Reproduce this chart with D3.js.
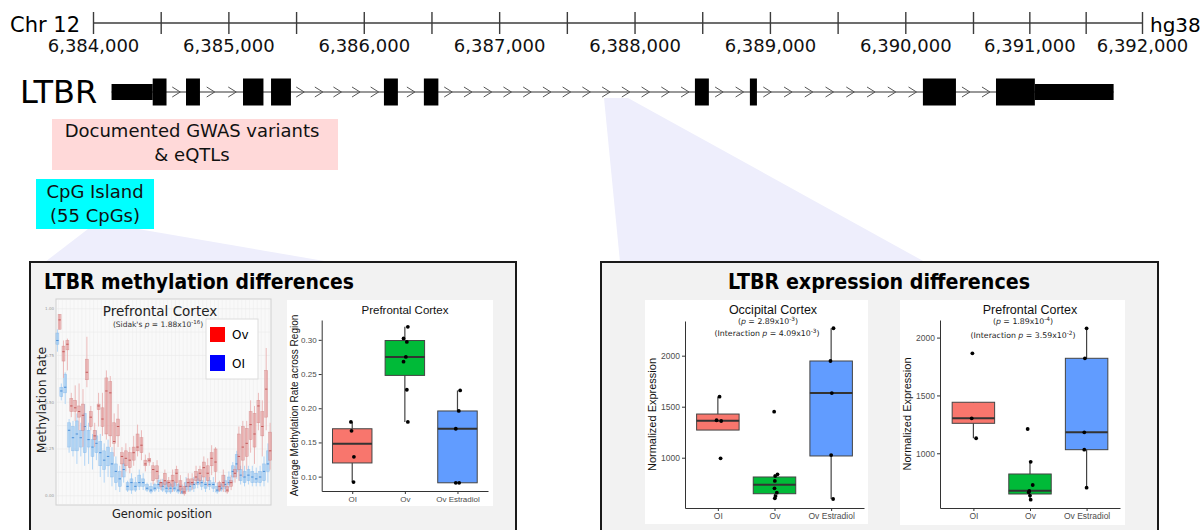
<!DOCTYPE html>
<html lang="en">
<head>
<meta charset="UTF-8">
<title>LTBR</title>
<script src="https://d3js.org/d3.v7.min.js"></script>
<style>
  body { margin: 0; background: #fff; }
  svg text { font-family: "DejaVu Sans", Verdana, sans-serif; }
  .rplot text { font-family: "Liberation Sans", Arial, sans-serif; }
</style>
</head>
<body>
<svg id="fig" width="1204" height="530"></svg>
<script>
// ---------- data ----------
// chromosome coordinate ruler (hg38, chr12)
const rulerTicks = d3.range(6384000, 6392001, 500);

// LTBR gene model, genomic start / end of each block
const exonStart = [6384137, 6384441, 6384687, 6385108, 6385315, 6386149, 6386444, 6388446, 6388852, 6390130, 6390704, 6391049];
const exonEnd   = [6384441, 6384543, 6384790, 6385259, 6385462, 6386252, 6386551, 6388549, 6388904, 6390374, 6391049, 6391748];
const exonKind  = ["utr", "cds", "cds", "cds", "cds", "cds", "cds", "cds", "cds", "cds", "cds", "utr"];

// per-CpG methylation (55 CpGs), box summaries, Ov and OI
const ovHi  = [.97,.83,.84,.55,.59,.60,.57,.85,.48,.39,.55,.55,.67,.64,.44,.49,.26,.28,.26,.32,.38,.35,.22,.23,.18,.19,.09,.14,.10,.14,.16,.11,.07,.12,.12,.16,.16,.21,.20,.27,.26,.08,.14,.07,.11,.16,.37,.40,.40,.51,.48,.55,.51,.79,.39];
const ovQ3  = [.97,.80,.83,.52,.51,.48,.49,.73,.45,.35,.49,.47,.63,.61,.39,.41,.23,.24,.23,.26,.33,.31,.19,.20,.16,.16,.07,.12,.08,.11,.14,.08,.05,.09,.09,.13,.14,.18,.16,.23,.25,.07,.11,.05,.08,.14,.33,.37,.36,.45,.44,.51,.45,.67,.34];
const ovMed = [.94,.77,.81,.48,.47,.45,.43,.66,.42,.32,.48,.41,.56,.55,.29,.37,.21,.20,.19,.23,.26,.27,.17,.19,.14,.13,.07,.08,.07,.08,.12,.05,.02,.07,.07,.10,.12,.15,.12,.20,.18,.05,.07,.03,.07,.12,.21,.26,.28,.38,.33,.48,.37,.57,.24];
const ovQ1  = [.89,.72,.78,.45,.45,.42,.35,.62,.37,.30,.46,.37,.33,.32,.28,.32,.17,.16,.15,.19,.24,.23,.16,.18,.08,.09,.05,.06,.05,.05,.07,.03,.01,.05,.06,.08,.08,.10,.08,.16,.13,.03,.05,.02,.05,.10,.14,.19,.21,.30,.26,.39,.32,.42,.19];
const ovLo  = [.89,.63,.67,.42,.40,.35,.26,.58,.35,.26,.37,.32,.30,.26,.21,.26,.10,.13,.12,.16,.21,.19,.13,.16,.06,.07,.03,.04,.03,.02,.05,.01,.00,.02,.03,.06,.06,.07,.05,.11,.07,.02,.02,.01,.03,.07,.08,.10,.14,.23,.17,.35,.21,.35,.14];
const oiHi  = [.89,.60,.66,.41,.40,.44,.39,.49,.39,.33,.35,.33,.28,.30,.26,.21,.16,.20,.08,.12,.10,.14,.12,.07,.07,.07,.11,.09,.08,.07,.08,.07,.06,.10,.08,.10,.12,.11,.10,.10,.10,.07,.07,.11,.13,.18,.24,.16,.16,.16,.16,.15,.16,.21,.28];
const oiQ3  = [.87,.58,.65,.39,.37,.40,.35,.44,.35,.30,.32,.29,.24,.26,.23,.17,.13,.17,.07,.09,.07,.11,.09,.06,.05,.06,.08,.07,.07,.06,.07,.06,.04,.07,.07,.07,.09,.08,.07,.08,.07,.05,.06,.08,.10,.16,.22,.14,.13,.14,.13,.12,.13,.17,.24];
const oiMed = [.83,.56,.58,.35,.31,.33,.31,.37,.30,.26,.28,.23,.19,.21,.17,.13,.09,.14,.05,.07,.05,.07,.07,.04,.03,.04,.06,.05,.04,.04,.04,.03,.02,.05,.05,.06,.07,.07,.06,.06,.06,.03,.04,.06,.07,.13,.17,.11,.10,.11,.10,.09,.10,.13,.17];
const oiQ1  = [.81,.53,.55,.26,.24,.24,.26,.23,.26,.21,.23,.16,.14,.16,.10,.07,.05,.10,.03,.03,.03,.05,.05,.03,.02,.03,.04,.03,.02,.02,.03,.02,.01,.03,.03,.04,.06,.05,.04,.05,.04,.02,.03,.04,.06,.10,.13,.08,.07,.08,.07,.07,.07,.08,.13];
const oiLo  = [.77,.51,.49,.23,.21,.17,.21,.16,.17,.14,.19,.10,.07,.10,.05,.03,.02,.07,.02,.01,.02,.03,.03,.02,.01,.02,.02,.02,.01,.01,.02,.01,.01,.02,.02,.02,.04,.03,.02,.03,.02,.01,.02,.02,.04,.07,.09,.06,.05,.06,.05,.05,.05,.05,.07];
const cpgTicks = [0, 0.25, 0.5, 0.75, 1];

// group boxplots
const groups = ["OI", "Ov", "Ov Estradiol"];
const groupColors = ["#F8766D", "#00BA38", "#619CFF"];

// average methylation, prefrontal cortex  [lo, q1, median, q3, hi]
const methStats = [[0.092, 0.120, 0.148, 0.170, 0.180], [0.180, 0.248, 0.275, 0.299, 0.319], [0.091, 0.091, 0.170, 0.196, 0.226]];
const methPts = [[0.180, 0.167, 0.129, 0.092], [0.319, 0.302, 0.297, 0.275, 0.268, 0.227, 0.180], [0.226, 0.196, 0.170, 0.091, 0.091]];
const methJit = [[-0.025, -0.013, 0.032, 0.025], [0.057, -0.025, 0.038, 0.019, -0.025, 0.038, 0.057], [0.051, 0.025, -0.032, -0.032, 0.032]];
const methTicks = [0.10, 0.15, 0.20, 0.25, 0.30];

// normalized expression, occipital cortex
const occStats = [[1271, 1271, 1363, 1428, 1598], [602, 647, 735, 811, 837], [595, 1017, 1634, 1948, 2269]];
const occPts = [[1598, 1367, 1360, 994], [1451, 837, 820, 772, 700, 657, 624, 602], [2269, 1948, 1634, 1026, 595]];
const occJit = [[0.03, -0.023, 0.059, 0.048], [-0.006, 0.053, 0.012, 0.006, 0, 0.041, 0.018, 0.006], [0.041, -0.012, 0.012, 0, 0.035]];

// normalized expression, prefrontal cortex
const pfcStats = [[1130, 1259, 1302, 1441, 1441], [599, 648, 677, 821, 926], [703, 1031, 1181, 1821, 2080]];
const pfcPts = [[1864, 1302, 1130], [1210, 926, 726, 674, 663, 634, 599], [2080, 1821, 1181, 1031, 703]];
const pfcJit = [[-0.018, -0.03, 0.048], [-0.041, 0.012, 0.048, -0.012, -0.023, 0, 0.012], [0, -0.03, -0.041, -0.041, 0]];
const exprTicks = [1000, 1500, 2000];

// ---------- drawing ----------
const svg = d3.select("#fig");

// light "zoom" wedges
svg.append("polygon").attr("points", "88,229 138,229 330,262 45,262").attr("fill", "#eeeefc");
svg.append("polygon").attr("points", "604,98 628,98 925,262 620,262").attr("fill", "#eeeefc");

// ruler
const gx = d3.scaleLinear().domain([6384000, 6390500, 6392000]).range([93, 973, 1142]);
svg.append("line")
  .attr("x1", gx(6384000)).attr("x2", gx(6392000))
  .attr("y1", 23).attr("y2", 23)
  .attr("stroke", "#3c3c3c").attr("stroke-width", 1.4);
const ruler = svg.append("g")
  .attr("transform", "translate(0,12)")
  .call(d3.axisBottom(gx).tickValues(rulerTicks)
    .tickFormat(d => d % 1000 === 0 ? d3.format(",")(d) : "")
    .tickSize(22).tickPadding(5).tickSizeOuter(0));
ruler.select(".domain").remove();
ruler.selectAll(".tick line").attr("stroke", "#3c3c3c").attr("stroke-width", 1.4);
ruler.selectAll("text").attr("font-family", "DejaVu Sans, Verdana, sans-serif")
  .attr("font-size", 18).attr("fill", "#111");
ruler.attr("font-family", null).attr("font-size", null);

svg.append("text").attr("x", 80).attr("y", 32).attr("text-anchor", "end")
  .attr("font-size", 21).text("Chr 12");
svg.append("text").attr("x", 1150).attr("y", 32).attr("font-size", 20).text("hg38");

// gene model
const geneY = 92;
svg.append("text").attr("x", 20).attr("y", 103).attr("font-size", 32).text("LTBR");
svg.append("line")
  .attr("x1", gx(exonStart[0])).attr("x2", gx(exonEnd[exonEnd.length - 1]))
  .attr("y1", geneY).attr("y2", geneY).attr("stroke", "#333").attr("stroke-width", 1.2);

const chevrons = [];
for (let i = 0; i < exonStart.length - 1; i++) {
  const a = gx(exonEnd[i]), b = gx(exonStart[i + 1]);
  const n = Math.round((b - a) / 20);
  for (let k = 0; k < n; k++) chevrons.push(a + (k + 0.5) * (b - a) / n);
}
svg.append("g").selectAll("path").data(chevrons).join("path")
  .attr("d", c => `M${c - 4},${geneY - 5}L${c + 4},${geneY}L${c - 4},${geneY + 5}`)
  .attr("fill", "none").attr("stroke", "#555").attr("stroke-width", 1);

svg.append("g").selectAll("rect").data(exonStart).join("rect")
  .attr("x", (d, i) => gx(d))
  .attr("width", (d, i) => gx(exonEnd[i]) - gx(d))
  .attr("y", (d, i) => exonKind[i] === "utr" ? geneY - 8 : geneY - 13.5)
  .attr("height", (d, i) => exonKind[i] === "utr" ? 16 : 27)
  .attr("fill", "#000");

// annotation boxes
svg.append("rect").attr("x", 52).attr("y", 119).attr("width", 286).attr("height", 51).attr("fill", "#ffd9d9");
svg.append("text").attr("x", 192).attr("y", 137).attr("text-anchor", "middle").attr("font-size", 18).attr("fill", "#111").text("Documented GWAS variants");
svg.append("text").attr("x", 192).attr("y", 161).attr("text-anchor", "middle").attr("font-size", 18).attr("fill", "#111").text("& eQTLs");
svg.append("rect").attr("x", 36).attr("y", 179).attr("width", 118).attr("height", 50).attr("fill", "#00ffff");
svg.append("text").attr("x", 95).attr("y", 198).attr("text-anchor", "middle").attr("font-size", 18).attr("fill", "#111").text("CpG Island");
svg.append("text").attr("x", 95).attr("y", 222).attr("text-anchor", "middle").attr("font-size", 18).attr("fill", "#111").text("(55 CpGs)");

// panels
svg.append("rect").attr("x", 30).attr("y", 262).attr("width", 486).attr("height", 290)
  .attr("fill", "#f2f2f2").attr("stroke", "#1a1a1a").attr("stroke-width", 2);
svg.append("rect").attr("x", 601).attr("y", 262).attr("width", 557).attr("height", 290)
  .attr("fill", "#f2f2f2").attr("stroke", "#1a1a1a").attr("stroke-width", 2);
svg.append("text").attr("x", 44).attr("y", 289).attr("font-size", 21).attr("font-weight", "bold")
  .attr("textLength", 310).attr("lengthAdjust", "spacingAndGlyphs").text("LTBR methylation differences");
svg.append("text").attr("x", 879).attr("y", 289).attr("font-size", 21).attr("font-weight", "bold")
  .attr("text-anchor", "middle").attr("textLength", 302).attr("lengthAdjust", "spacingAndGlyphs")
  .text("LTBR expression differences");

// ---------- per-CpG methylation plot ----------
const hm = svg.append("g");
hm.append("rect").attr("x", 56).attr("y", 299).attr("width", 215).attr("height", 206)
  .attr("fill", "#f9f9f9").attr("stroke", "#cfcfcf");
const hx = d3.scaleLinear().domain([1, ovMed.length]).range([58.5, 269]);
const hy = d3.scaleLinear().domain([0, 1]).range([495.7, 308.7]);
const idx = d3.range(1, ovMed.length + 1);
hm.append("g").selectAll("line").data(idx).join("line")
  .attr("x1", d => hx(d)).attr("x2", d => hx(d)).attr("y1", 300).attr("y2", 504)
  .attr("stroke", "#efefef").attr("stroke-width", 0.6);
hm.append("g").selectAll("line").data(d3.range(0, 1.01, 0.125)).join("line")
  .attr("x1", 57).attr("x2", 270).attr("y1", d => hy(d)).attr("y2", d => hy(d))
  .attr("stroke", "#ebebeb").attr("stroke-width", 0.6);
hm.append("g").selectAll("text").data(cpgTicks).join("text")
  .attr("x", 54).attr("y", d => hy(d) + 1.5).attr("text-anchor", "end")
  .attr("font-size", 4).attr("fill", "#999").text(d => d3.format(".2f")(d));

function cpgSeries(hi, q3, med, q1, lo, dx, light, fill, edge, dark) {
  const g = hm.append("g");
  g.selectAll("line").data(idx).join("line")
    .attr("x1", d => hx(d) + dx).attr("x2", d => hx(d) + dx)
    .attr("y1", d => hy(hi[d - 1])).attr("y2", d => hy(lo[d - 1]))
    .attr("stroke", light).attr("stroke-width", 1);
  g.selectAll("rect").data(idx).join("rect")
    .attr("x", d => hx(d) + dx - 1.5).attr("width", 3)
    .attr("y", d => hy(q3[d - 1]))
    .attr("height", d => Math.max(1.2, hy(q1[d - 1]) - hy(q3[d - 1])))
    .attr("fill", fill).attr("stroke", edge).attr("stroke-width", 0.5);
  g.selectAll(".med").data(idx).join("line").attr("class", "med")
    .attr("x1", d => hx(d) + dx - 1.2).attr("x2", d => hx(d) + dx + 1.2)
    .attr("y1", d => hy(med[d - 1])).attr("y2", d => hy(med[d - 1]))
    .attr("stroke", dark).attr("stroke-width", 1);
}
cpgSeries(oiHi, oiQ3, oiMed, oiQ1, oiLo, -1.1, "rgba(160,205,245,0.8)", "rgba(150,198,242,0.6)", "rgba(110,170,230,0.6)", "#4a8fd8");
cpgSeries(ovHi, ovQ3, ovMed, ovQ1, ovLo, 1.1, "rgba(232,170,170,0.8)", "rgba(228,150,150,0.55)", "rgba(200,110,110,0.6)", "#c45a5a");

hm.append("text").attr("x", 160).attr("y", 316).attr("text-anchor", "middle").attr("font-size", 13.5).attr("fill", "#222").text("Prefrontal Cortex");
const sid = hm.append("text").attr("x", 158).attr("y", 327).attr("text-anchor", "middle").attr("font-size", 7.5).attr("fill", "#333");
sid.append("tspan").text("(Sidak's ");
sid.append("tspan").attr("font-style", "italic").text("p");
sid.append("tspan").text(" = 1.88x10");
sid.append("tspan").attr("font-size", 5.5).attr("dy", -3).text("-16");
sid.append("tspan").attr("dy", 3).text(")");

hm.append("rect").attr("x", 206).attr("y", 319).attr("width", 52).attr("height", 60).attr("fill", "#fff").attr("stroke", "#ddd");
hm.append("rect").attr("x", 210).attr("y", 327).attr("width", 15).attr("height", 15).attr("fill", "#ff0000");
hm.append("rect").attr("x", 210).attr("y", 355).attr("width", 15).attr("height", 16).attr("fill", "#0000ff");
hm.append("text").attr("x", 232).attr("y", 339).attr("font-size", 12).text("Ov");
hm.append("text").attr("x", 232).attr("y", 368).attr("font-size", 12).text("OI");
hm.append("text").attr("transform", "translate(46,400) rotate(-90)").attr("text-anchor", "middle").attr("font-size", 12.5).attr("fill", "#222").text("Methylation Rate");
hm.append("text").attr("x", 162).attr("y", 518).attr("text-anchor", "middle").attr("font-size", 11.5).attr("fill", "#222").text("Genomic position");

// ---------- group boxplots ----------
function boxPanel(c) {
  const g = svg.append("g").attr("class", "rplot");
  g.append("rect").attr("x", c.bg[0]).attr("y", c.bg[1]).attr("width", c.bg[2]).attr("height", c.bg[3]).attr("fill", "#fff");
  const x = d3.scalePoint().domain(groups).range(c.xr).padding(c.pad);
  const y = d3.scaleLinear().domain(c.yd).range(c.yr);
  const bw = x.step() * 0.75;

  const ya = g.append("g").attr("transform", `translate(${c.xr[0]},0)`)
    .call(d3.axisLeft(y).tickValues(c.ticks).tickFormat(c.fmt).tickSize(3).tickPadding(2).tickSizeOuter(0));
  const xa = g.append("g").attr("transform", `translate(0,${c.yr[0]})`)
    .call(d3.axisBottom(x).tickSize(3).tickPadding(2).tickSizeOuter(0));
  [ya, xa].forEach(a => {
    a.attr("font-family", null).attr("font-size", null);
    a.select(".domain").attr("stroke", "#333").attr("stroke-width", 1);
    a.selectAll(".tick line").attr("stroke", "#333");
    a.selectAll("text").attr("font-size", c.fs).attr("fill", "#4d4d4d");
  });

  c.stats.forEach((s, i) => {
    const cx = x(groups[i]);
    g.append("line").attr("x1", cx).attr("x2", cx).attr("y1", y(s[0])).attr("y2", y(s[4]))
      .attr("stroke", "#444").attr("stroke-width", 1.2);
    g.append("rect").attr("x", cx - bw / 2).attr("width", bw)
      .attr("y", y(s[3])).attr("height", y(s[1]) - y(s[3]))
      .attr("fill", groupColors[i]).attr("stroke", "#444").attr("stroke-width", 1);
    g.append("line").attr("x1", cx - bw / 2).attr("x2", cx + bw / 2).attr("y1", y(s[2])).attr("y2", y(s[2]))
      .attr("stroke", "#333").attr("stroke-width", 2);
    g.append("g").selectAll("circle").data(c.pts[i]).join("circle")
      .attr("cx", (d, j) => cx + c.jit[i][j] * x.step()).attr("cy", d => y(d)).attr("r", 1.9)
      .attr("fill", "#000");
  });

  g.append("text").attr("x", c.title[1]).attr("y", c.title[2]).attr("text-anchor", "middle")
    .attr("font-size", c.title[3]).attr("fill", "#111").text(c.title[0]);
  g.append("text").attr("transform", `translate(${c.ytitle[1]},${(c.yr[0] + c.yr[1]) / 2}) rotate(-90)`)
    .attr("text-anchor", "middle").attr("font-size", c.ytitle[2]).attr("fill", "#111").text(c.ytitle[0]);
  (c.subs || []).forEach(s => {
    const t = g.append("text").attr("x", s[3]).attr("y", s[4]).attr("text-anchor", "middle")
      .attr("font-size", 7.8).attr("fill", "#222").style("font-family", "DejaVu Sans, Verdana, sans-serif");
    t.append("tspan").text(s[0]);
    t.append("tspan").attr("font-style", "italic").text("p");
    t.append("tspan").text(" = " + s[1]);
    t.append("tspan").attr("font-size", 5.8).attr("dy", -3).text(s[2]);
    t.append("tspan").attr("dy", 3).text(")");
  });
}

boxPanel({
  bg: [287, 300, 206, 206], xr: [321.7, 488], pad: 0.58, yd: [0.079, 0.329], yr: [491, 320],
  ticks: methTicks, fmt: d3.format(".2f"), fs: 8,
  stats: methStats, pts: methPts, jit: methJit,
  title: ["Prefrontal Cortex", 405, 314, 11.5],
  ytitle: ["Average Methylation Rate across Region", 298, 10]
});
boxPanel({
  bg: [645, 300, 223, 224], xr: [685, 864], pad: 0.58, yd: [507, 2340], yr: [508, 321],
  ticks: exprTicks, fmt: d3.format("d"), fs: 8.5,
  stats: occStats, pts: occPts, jit: occJit,
  title: ["Occipital Cortex", 773, 314, 12.5],
  ytitle: ["Normalized Expression", 656, 11],
  subs: [["(", "2.89x10", "-3", 768, 324], ["(Interaction ", "4.09x10", "-3", 767, 336]]
});
boxPanel({
  bg: [900, 300, 225, 225], xr: [940, 1120], pad: 0.59, yd: [527, 2152], yr: [508, 320],
  ticks: exprTicks, fmt: d3.format("d"), fs: 8.5,
  stats: pfcStats, pts: pfcPts, jit: pfcJit,
  title: ["Prefrontal Cortex", 1030, 314, 12.5],
  ytitle: ["Normalized Expression", 911, 11],
  subs: [["(", "1.89x10", "-4", 1023, 324], ["(Interaction ", "3.59x10", "-2", 1023, 338]]
});
</script>
</body>
</html>
